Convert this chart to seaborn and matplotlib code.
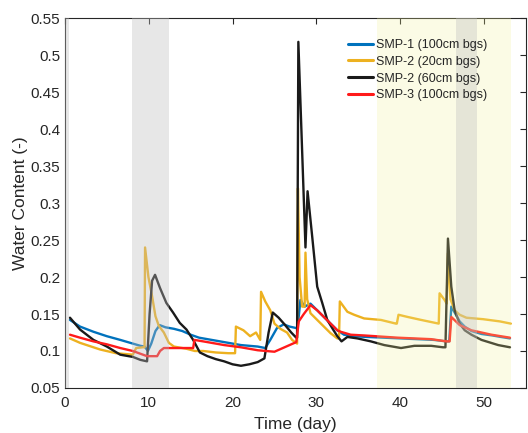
import matplotlib
matplotlib.use("Agg")
import matplotlib.pyplot as plt
import seaborn as sns
import pandas as pd
from matplotlib.ticker import FixedLocator, FuncFormatter

# ---------------- data ----------------
smp1_t = [0.6, 1.8, 3.4, 5.0, 6.6, 8.1, 9.0, 9.5, 9.9, 10.3, 10.8, 11.3, 12.0, 13.0, 14.0,
          15.0, 16.0, 17.0, 18.0, 19.0, 20.0, 21.0, 22.0, 23.0, 23.9, 24.5, 25.3, 26.1, 26.8,
          27.6, 27.75, 28.1, 28.6, 29.3, 30.1, 30.9, 31.7, 32.5, 33.3, 34.5, 36.0, 38.0, 40.0,
          42.0, 44.0, 45.5, 45.85, 46.1, 46.6, 47.1, 47.7, 48.5, 49.7, 51.0, 52.0, 53.1]
smp1_v = [0.142, 0.133, 0.126, 0.120, 0.115, 0.110, 0.107, 0.106, 0.100, 0.110, 0.127, 0.135,
          0.132, 0.130, 0.127, 0.122, 0.118, 0.116, 0.114, 0.112, 0.110, 0.108, 0.107, 0.106,
          0.104, 0.115, 0.131, 0.136, 0.133, 0.131, 0.131, 0.169, 0.160, 0.164, 0.155, 0.146,
          0.137, 0.128, 0.122, 0.120, 0.119, 0.118, 0.117, 0.116, 0.115, 0.113, 0.113, 0.160,
          0.150, 0.140, 0.133, 0.127, 0.123, 0.121, 0.119, 0.117]

smp2a_t = [0.6, 1.8, 4.2, 6.1, 8.1, 8.5, 9.3, 9.5, 9.56, 9.96, 10.4, 10.8, 11.2, 11.8, 12.4,
           13.0, 14.5, 15.5, 16.5, 18.0, 19.5, 20.3, 20.4, 21.3, 22.1, 22.8, 23.3, 23.4, 23.9,
           24.5, 25.0, 25.7, 26.5, 27.1, 27.7, 27.8, 28.0, 28.3, 28.6, 28.7, 28.9, 29.3, 30.1,
           30.9, 31.7, 32.5, 32.7, 32.8, 33.7, 34.5, 35.7, 37.7, 39.5, 39.6, 39.8, 40.9, 42.5,
           44.6, 44.7, 45.3, 45.55, 45.7, 46.0, 46.5, 47.1, 47.9, 49.9, 51.9, 53.2]
smp2a_v = [0.117, 0.111, 0.102, 0.097, 0.095, 0.104, 0.105, 0.105, 0.240, 0.200, 0.174, 0.147,
           0.134, 0.125, 0.111, 0.106, 0.103, 0.100, 0.100, 0.098, 0.097, 0.097, 0.133, 0.128,
           0.120, 0.125, 0.115, 0.180, 0.167, 0.155, 0.137, 0.130, 0.125, 0.115, 0.110, 0.320,
           0.200, 0.160, 0.160, 0.233, 0.170, 0.151, 0.142, 0.133, 0.124, 0.117, 0.117, 0.167,
           0.153, 0.149, 0.144, 0.142, 0.137, 0.137, 0.149, 0.146, 0.142, 0.137, 0.178, 0.169,
           0.164, 0.232, 0.170, 0.155, 0.149, 0.145, 0.143, 0.140, 0.137]

smp2b_t = [0.6, 1.8, 3.4, 5.0, 6.6, 8.1, 9.0, 9.8, 10.1, 10.4, 10.75, 11.35, 12.1, 12.9, 13.7,
           14.5, 15.3, 16.1, 17.0, 18.0, 19.0, 20.0, 21.0, 22.0, 23.0, 23.8, 24.3, 24.8, 25.5,
           26.2, 27.0, 27.6, 27.7, 27.85, 28.7, 28.95, 29.5, 30.1, 30.7, 31.3, 32.0, 32.5, 33.0,
           33.7, 34.9, 36.5, 38.1, 40.1, 41.7, 43.7, 45.1, 45.4, 45.7, 46.1, 46.5, 47.1, 47.7,
           48.5, 49.7, 51.7, 53.1]
smp2b_v = [0.145, 0.129, 0.115, 0.106, 0.095, 0.092, 0.088, 0.086, 0.150, 0.195, 0.203, 0.185,
           0.165, 0.152, 0.138, 0.129, 0.115, 0.098, 0.093, 0.089, 0.086, 0.082, 0.080, 0.082,
           0.085, 0.090, 0.125, 0.152, 0.145, 0.136, 0.125, 0.118, 0.118, 0.518, 0.240, 0.316,
           0.255, 0.187, 0.165, 0.142, 0.129, 0.120, 0.113, 0.119, 0.117, 0.113, 0.108, 0.104,
           0.107, 0.107, 0.105, 0.105, 0.252, 0.187, 0.155, 0.137, 0.128, 0.122, 0.115, 0.108,
           0.105]

smp3_t = [0.6, 1.8, 3.4, 5.0, 6.6, 8.1, 9.8, 11.0, 11.35, 11.8, 12.5, 14.0, 15.3, 15.45, 17.0,
          19.0, 21.0, 23.0, 24.0, 25.0, 26.4, 27.6, 27.9, 28.5, 29.3, 30.1, 30.9, 31.7, 32.5,
          32.9, 34.1, 35.7, 39.7, 43.7, 45.5, 45.9, 46.1, 47.1, 48.5, 50.9, 53.1]
smp3_v = [0.122, 0.118, 0.113, 0.109, 0.104, 0.100, 0.093, 0.093, 0.100, 0.104, 0.104, 0.104,
          0.104, 0.115, 0.112, 0.108, 0.105, 0.101, 0.100, 0.099, 0.106, 0.112, 0.140, 0.150,
          0.162, 0.155, 0.146, 0.137, 0.128, 0.126, 0.122, 0.121, 0.118, 0.116, 0.113, 0.113,
          0.146, 0.135, 0.128, 0.122, 0.118]

series_names = ["SMP-1 (100cm bgs)", "SMP-2 (20cm bgs)", "SMP-2 (60cm bgs)", "SMP-3 (100cm bgs)"]
series_colors = ["#0072BD", "#EDB120", "#1a1a1a", "#FF1A1A"]

gray_spans = [(0.0, 0.5), (8.0, 12.4), (46.7, 49.2)]
yellow_spans = [(37.2, 53.2)]

x_ticks = [0, 10, 20, 30, 40, 50]
y_ticks = [0.05, 0.1, 0.15, 0.2, 0.25, 0.3, 0.35, 0.4, 0.45, 0.5, 0.55]

# ---------------- build long table ----------------
frames = []
for name, t, v in zip(series_names,
                      [smp1_t, smp2a_t, smp2b_t, smp3_t],
                      [smp1_v, smp2a_v, smp2b_v, smp3_v]):
    frames.append(pd.DataFrame({"Time (day)": t, "Water Content (-)": v, "series": name}))
df = pd.concat(frames, ignore_index=True)

# ---------------- plot ----------------
sns.set_theme(style="white")
plt.rcParams["font.family"] = ["Liberation Sans", "DejaVu Sans"]

fig = plt.figure(figsize=(5.28, 4.33), dpi=100)
ax = fig.add_axes([0.123, 0.104, 0.873, 0.854])

sns.lineplot(data=df, x="Time (day)", y="Water Content (-)", hue="series",
             hue_order=series_names, palette=series_colors, estimator=None,
             sort=False, linewidth=1.7, ax=ax)

for a, b in yellow_spans:
    ax.axvspan(a, b, facecolor=(0.95, 0.95, 0.6), alpha=0.25, lw=0, zorder=4)
for a, b in gray_spans:
    ax.axvspan(a, b, facecolor=(0.75, 0.75, 0.75), alpha=0.36, lw=0, zorder=4)

ax.set_xlim(0, 55)
ax.set_ylim(0.05, 0.55)
ax.xaxis.set_major_locator(FixedLocator(x_ticks))
ax.yaxis.set_major_locator(FixedLocator(y_ticks))
ax.yaxis.set_major_formatter(FuncFormatter(lambda v, p: ("%.2f" % v).rstrip("0")))

tc = "#262626"
ax.tick_params(direction="in", length=4, width=0.8, colors=tc, labelsize=11,
               top=True, right=True, labeltop=False, labelright=False, pad=3.5)
ax.tick_params(axis="x", pad=5.5)
for s in ax.spines.values():
    s.set_color(tc)
    s.set_linewidth(0.8)
ax.set_xlabel("Time (day)", fontsize=12.5, color=tc, labelpad=5)
ax.set_ylabel("Water Content (-)", fontsize=12.5, color=tc, labelpad=1.5)

leg = ax.legend(loc="upper left", bbox_to_anchor=(0.603, 0.957), frameon=False,
                fontsize=9, handlelength=2.0, handletextpad=0.25, labelspacing=0.38,
                borderaxespad=0)
for line in leg.get_lines():
    line.set_linewidth(2.2)
for txt in leg.get_texts():
    txt.set_color(tc)
leg.set_zorder(10)

fig.savefig("out.png", dpi=100)
